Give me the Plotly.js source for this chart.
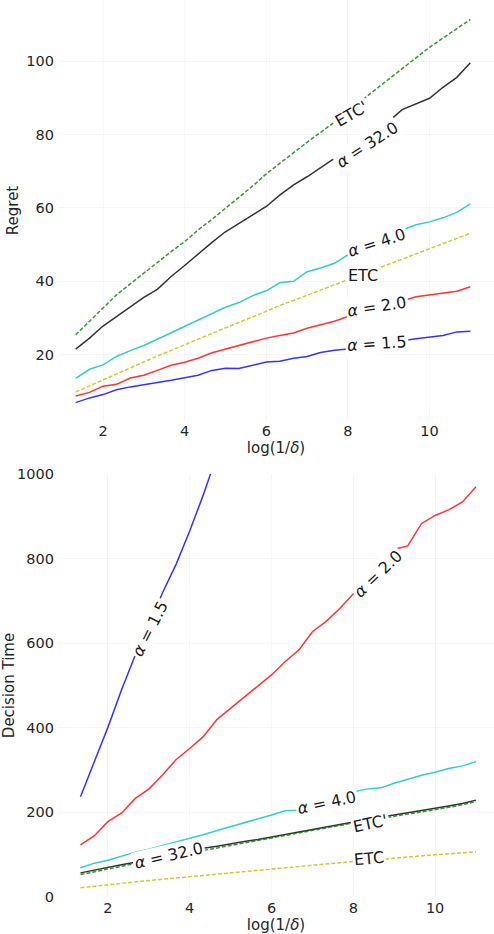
<!DOCTYPE html>
<html>
<head>
<meta charset="utf-8">
<script src="https://cdn.plot.ly/plotly-3.0.1.min.js"></script>
<style>
  html, body { margin: 0; padding: 0; background: #fff; }
  #chart { width: 494px; height: 934px; }
</style>
</head>
<body>
<div id="chart"></div>
<script>
// log(1/delta) values, shared by both panels
let logInvDelta = [1.33, 1.67, 2.0, 2.33, 2.67, 3.0, 3.33, 3.67, 4.0, 4.33,
                   4.67, 5.0, 5.33, 5.67, 6.0, 6.33, 6.67, 7.0, 7.33, 7.67,
                   8.0, 8.33, 8.67, 9.0, 9.33, 9.67, 10.0, 10.33, 10.67, 11.0];

// top panel: regret
let regretA15 = [6.9, 8.2, 9.1, 10.4, 11.2, 11.7, 12.4, 13.0, 13.6, 14.4, 15.7, 16.3, 16.2, 17.1, 18.0,
                 18.2, 19.0, 19.5, 20.6, 21.2, 21.5, 22.2, 22.8, 23.3, 23.8, 24.3, 24.8, 25.2, 26.2, 26.4];
let regretA2 = [8.7, 9.7, 11.4, 11.9, 13.6, 14.4, 15.7, 17.1, 17.9, 19.0, 20.5, 21.5, 22.5, 23.5, 24.5,
                25.2, 25.9, 27.2, 28.1, 29.1, 30.4, 31.4, 32.4, 33.5, 34.6, 35.8, 36.3, 36.6, 37.3, 38.5];
let regretA4 = [13.5, 16.0, 17.2, 19.5, 21.1, 22.5, 24.2, 26.0, 27.8, 29.5, 31.3, 32.9, 34.2, 36.1, 37.4,
                39.6, 40.0, 42.6, 43.6, 44.9, 47.2, 49.0, 50.8, 52.5, 54.0, 55.4, 56.2, 57.3, 58.8, 61.1];
let regretA32 = [21.5, 24.5, 27.8, 30.4, 32.9, 35.6, 37.8, 41.3, 44.3, 47.5, 50.6, 53.5, 55.8, 58.1, 60.4,
                 63.5, 66.3, 68.5, 71.0, 73.5, 76.3, 79.0, 81.5, 83.6, 86.8, 88.3, 89.9, 92.9, 95.6, 99.6];
let regretETC = [9.8, 11.5, 13.2, 14.8, 16.4, 18.0, 19.6, 21.2, 22.7, 24.2, 25.8, 27.3, 28.8, 30.3, 31.9,
                 33.4, 34.8, 36.2, 37.6, 39.0, 40.4, 41.8, 43.2, 44.6, 46.0, 47.4, 48.8, 50.2, 51.6, 53.1];
let regretETCp = [25.4, 29.2, 32.6, 36.3, 39.3, 42.2, 45.2, 48.1, 50.8, 54.0, 56.9, 59.9, 63.1, 66.0, 69.3,
                  72.2, 75.2, 77.9, 80.6, 83.4, 86.4, 89.3, 92.2, 95.1, 98.0, 100.9, 103.8, 106.3, 108.9, 111.4];

// bottom panel: decision time (alpha = 1.5 leaves the frame early)
let timeA15 = [237, 318, 401, 489, 572, 641, 718, 787, 865, 950, 1045];
let timeA2 = [123, 145, 178, 198, 233, 255, 288, 325, 351, 379, 420, 446, 472, 497, 525,
              556, 584, 627, 651, 682, 716, 752, 787, 822, 830, 883, 902, 915, 934, 970];
let timeA4 = [69, 80, 87, 97, 106, 113, 121, 130, 139, 147, 157, 166, 174, 184, 194,
              204, 205, 216, 227, 238, 249, 255, 258, 269, 278, 288, 295, 304, 310, 320];
let timeA32 = [57, 64, 70, 76, 82, 89, 95, 102, 108, 115, 120, 126, 131, 136, 142,
               148, 154, 160, 166, 172, 178, 183, 189, 194, 199, 204, 209, 215, 221, 229];
let timeETCp = [53, 60, 66, 73, 79, 85, 92, 98, 104, 110, 116, 122, 127, 133, 139,
                145, 151, 157, 163, 169, 175, 180, 186, 191, 196, 201, 206, 212, 218, 226];
let timeETC = [22, 25, 29, 32, 36, 39, 42, 45, 48, 52, 55, 58, 61, 64, 67,
               70, 73, 75, 78, 81, 84, 87, 89, 92, 95, 97, 100, 102, 105, 107];

let xTicks = [2, 4, 6, 8, 10];
let regretTicks = [20, 40, 60, 80, 100];
let timeTicks = [0, 200, 400, 600, 800, 1000];

let colors = {
    a15: 'rgba(0,0,255,0.8)',
    a2: 'rgba(255,0,0,0.8)',
    a4: 'rgba(0,191,191,0.8)',
    a32: 'rgba(0,0,0,0.8)',
    etcp: 'rgba(0,128,0,0.8)',
    etc: 'rgba(191,191,0,0.8)'
};

function line(x, y, color, dashed, xa, ya) {
    return {
        type: 'scatter',
        mode: 'lines',
        x: x,
        y: y,
        xaxis: xa,
        yaxis: ya,
        hoverinfo: 'skip',
        line: {color: color, width: 1.5, dash: dashed ? '4px,2px' : 'solid'}
    };
}

let data = [
    line(logInvDelta, regretETCp, colors.etcp, true, 'x', 'y'),
    line(logInvDelta, regretA32, colors.a32, false, 'x', 'y'),
    line(logInvDelta, regretA4, colors.a4, false, 'x', 'y'),
    line(logInvDelta, regretETC, colors.etc, true, 'x', 'y'),
    line(logInvDelta, regretA2, colors.a2, false, 'x', 'y'),
    line(logInvDelta, regretA15, colors.a15, false, 'x', 'y'),

    line(logInvDelta.slice(0, timeA15.length), timeA15, colors.a15, false, 'x2', 'y2'),
    line(logInvDelta, timeA2, colors.a2, false, 'x2', 'y2'),
    line(logInvDelta, timeA4, colors.a4, false, 'x2', 'y2'),
    line(logInvDelta, timeA32, colors.a32, false, 'x2', 'y2'),
    line(logInvDelta, timeETCp, colors.etcp, true, 'x2', 'y2'),
    line(logInvDelta, timeETC, colors.etc, true, 'x2', 'y2')
];

function label(text, x, y, angle, xa, ya) {
    return {
        text: text, x: x, y: y, xref: xa, yref: ya,
        showarrow: false, textangle: angle,
        xanchor: 'center', yanchor: 'middle',
        bgcolor: '#ffffff', borderpad: 1,
        font: {family: 'DejaVu Sans', size: 16, color: '#1a1a1a'}
    };
}

let annotations = [
    label('<i>α</i> = 32.0', 8.48, 77.4, -33, 'x', 'y'),
    label("ETC'", 8.10, 85.8, -30, 'x', 'y'),
    label('<i>α</i> = 4.0', 8.72, 50.5, -18, 'x', 'y'),
    label('ETC', 8.38, 41.7, 0, 'x', 'y'),
    label('<i>α</i> = 2.0', 8.72, 33.1, -9, 'x', 'y'),
    label('<i>α</i> = 1.5', 8.71, 22.9, -4, 'x', 'y'),

    label('<i>α</i> = 1.5', 3.03, 635, -63, 'x2', 'y2'),
    label('<i>α</i> = 2.0', 8.61, 765, -44, 'x2', 'y2'),
    label('<i>α</i> = 4.0', 7.36, 223, -12, 'x2', 'y2'),
    label("ETC'", 8.41, 174, -12, 'x2', 'y2'),
    label('ETC', 8.38, 91.5, -5, 'x2', 'y2'),
    label('<i>α</i> = 32.0', 3.49, 97, -13, 'x2', 'y2')
];

let gridColor = '#f5f5f5';

function xAxis(range, anchor) {
    return {
        anchor: anchor,
        domain: [0, 1],
        range: range,
        tickvals: xTicks,
        ticks: '',
        showline: false,
        zeroline: false,
        showgrid: true,
        gridcolor: gridColor,
        tickfont: {size: 14.5},
        ticklabelstandoff: 0,
        title: {text: 'log(1/<i>δ</i>)', standoff: 0, font: {size: 15}}
    };
}

function yAxis(domain, range, ticks, title, anchor) {
    return {
        anchor: anchor,
        domain: domain,
        range: range,
        tickvals: ticks,
        ticks: '',
        showline: false,
        zeroline: false,
        showgrid: true,
        gridcolor: gridColor,
        tickfont: {size: 14.5},
        ticklabelstandoff: 3,
        title: {text: title, standoff: 4, font: {size: 15}}
    };
}

let layout = {
    width: 494,
    height: 934,
    margin: {l: 58, r: 0, t: 0, b: 37},
    paper_bgcolor: '#ffffff',
    plot_bgcolor: '#ffffff',
    showlegend: false,
    font: {family: 'DejaVu Sans', size: 15, color: '#262626'},
    xaxis: xAxis([0.897, 11.58], 'y'),
    yaxis: yAxis([0.5307, 1], [1.91, 116.7], regretTicks, 'Regret', 'x'),
    xaxis2: xAxis([0.78, 11.44], 'y2'),
    yaxis2: yAxis([0, 0.4716], [0, 1000], timeTicks, 'Decision Time', 'x2'),
    annotations: annotations
};

Plotly.newPlot('chart', data, layout, {staticPlot: true, displayModeBar: false});
</script>
</body>
</html>
